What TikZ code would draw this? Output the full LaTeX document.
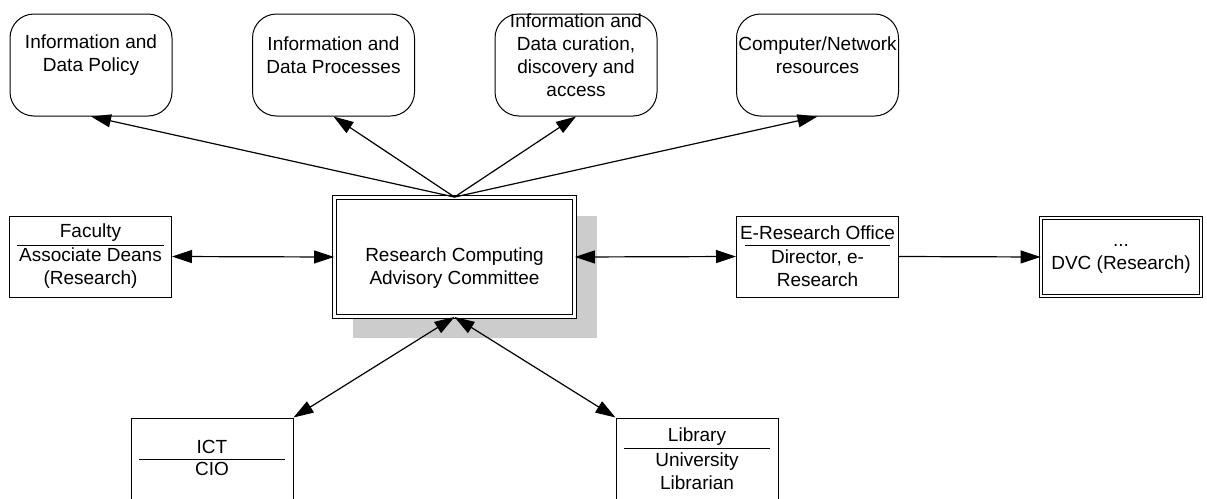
\documentclass[tikz,border=0pt]{standalone}
\usepackage{fontspec}
\setmainfont{Liberation Sans}
\usetikzlibrary{arrows.meta}

\begin{document}
\begin{tikzpicture}[x=1pt,y=-1pt,>={Triangle[length=20pt,width=13pt]}]
\tikzstyle{every node}+=[inner sep=0pt]
\tikzstyle{txt}=[font=\fontsize{19}{23}\selectfont, align=center]
\tikzstyle{topbox}=[draw, line width=1pt, rounded corners=24pt, minimum width=162, minimum height=102]
\tikzstyle{unitbox}=[draw, line width=1pt, minimum width=162, minimum height=81]
\tikzstyle{dblbox}=[draw, fill=white, double, double distance=2.5pt, line width=0.9pt]
\tikzstyle{link}=[line width=1.2pt]
\useasboundingbox (0,0) rectangle (1207,498);
% top row
\node [topbox] (policy) at (91,65) {};
\node [txt] (policy-t) at (91,55.5) {Information and\\Data Policy};
\node [topbox] (process) at (333.5,65) {};
\node [txt] (process-t) at (333.5,55.5) {Information and\\Data Processes};
\node [topbox] (curation) at (576,65) {};
\node [txt] (curation-t) at (576,55.5) {Information and\\Data curation,\\discovery and\\access};
\node [topbox] (network) at (817.5,65) {};
\node [txt] (network-t) at (817.5,55.5) {Computer/Network\\resources};
% committee
\fill [black!20] (353,216) rectangle (597,338);
\node [dblbox, minimum width=240, minimum height=119] (committee) at (454.5,257) {};
\node [txt] (committee-t) at (454.5,268) {Research Computing\\Advisory Committee};
% middle row
\node [unitbox] (faculty) at (90.5,256.5) {};
\node [txt] (faculty-h) at (90.5,233) {Faculty};
\node [txt] (faculty-t) at (90.5,268.5) {Associate Deans\\(Research)};
\draw [line width=0.9pt] (17,245) -- (164,245);
\node [unitbox] (eres) at (817.5,256.5) {};
\node [txt] (eres-h) at (817.5,233) {E-Research Office};
\node [txt] (eres-t) at (817.5,268.5) {Director, e-\\Research};
\draw [line width=0.9pt] (745,245) -- (890,245);
\node [dblbox, minimum width=160, minimum height=78] (dvc) at (1121,257) {};
\node [txt] (dvc-t) at (1121,258.5) {...\\DVC (Research)};
% bottom row
\node [unitbox] (ict) at (212,458.5) {};
\node [txt] (ict-h) at (212,447) {ICT};
\node [txt] (ict-t) at (212,469) {CIO};
\draw [line width=0.9pt] (139,459) -- (285,459);
\node [unitbox] (library) at (697,458.5) {};
\node [txt] (library-h) at (697,437) {Library};
\node [txt] (library-t) at (697,471.5) {University\\Librarian};
\draw [line width=0.9pt] (624,448) -- (770,448);
% links
\draw [link,->] (committee.north) -- (policy.south);
\draw [link,->] (committee.north) -- (process.south);
\draw [link,->] (committee.north) -- (curation.south);
\draw [link,->] (committee.north) -- (network.south);
\draw [link,<->] (faculty.east) -- (committee.west);
\draw [link,<->] (committee.east) -- (eres.west);
\draw [link,->] (eres.east) -- (dvc.west);
\draw [link,<->] (committee.south) -- (ict.north east);
\draw [link,<->] (committee.south) -- (library.north west);
\end{tikzpicture}
\end{document}
